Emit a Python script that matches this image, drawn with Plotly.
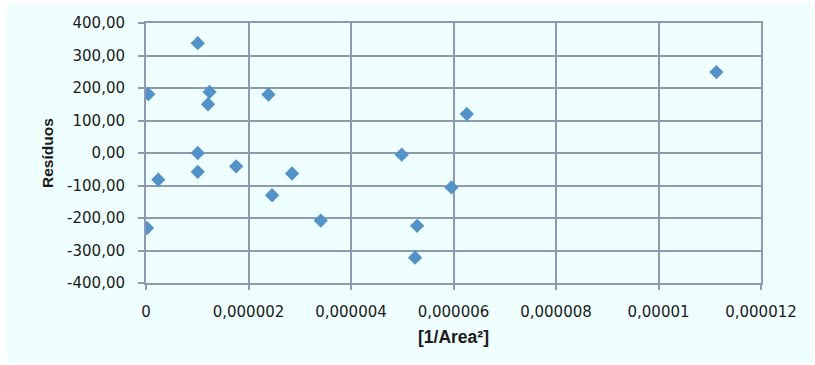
import plotly.graph_objects as go

# Data
x_vals = [0.045e-6, 1.01e-6, 1.24e-6, 1.21e-6, 2.39e-6,
          1.01e-6, 0.24e-6, 1.01e-6, 1.76e-6, 0.02e-6,
          2.46e-6, 2.85e-6, 3.41e-6, 4.99e-6, 5.96e-6,
          5.29e-6, 5.25e-6, 11.13e-6, 6.26e-6]
residuos = [181, 338, 188, 150, 180,
            0, -82, -58, -41, -231,
            -130, -63, -208, -5, -106,
            -224, -322, 249, 120]

x_tickvals = [0, 0.000002, 0.000004, 0.000006, 0.000008, 0.00001, 0.000012]
x_ticktext = ["0", "0,000002", "0,000004", "0,000006", "0,000008", "0,00001", "0,000012"]
y_tickvals = [400, 300, 200, 100, 0, -100, -200, -300, -400]
y_ticktext = ["400,00", "300,00", "200,00", "100,00", "0,00", "-100,00", "-200,00", "-300,00", "-400,00"]

W, H = 815, 365
ML, MR, MT, MB = 146, 54, 23, 82
PW, PH = W - ML - MR, H - MT - MB

def px_x(p):
    return (p - ML) / PW

def px_y(p):
    return (H - MB - p) / PH

BG = "#EFFFFF"
GRID = "#8D9AB1"
TICKFONT = dict(family="DejaVu Sans", size=15, color="#1a1a1a")

fig = go.Figure()
fig.add_trace(go.Scatter(
    x=x_vals, y=residuos, mode="markers",
    marker=dict(symbol="diamond", size=11, color="#5292C8", line=dict(width=0)),
    showlegend=False, hoverinfo="skip",
))

fig.update_layout(
    width=W, height=H,
    margin=dict(l=ML, r=MR, t=MT, b=MB, autoexpand=False),
    paper_bgcolor="white", plot_bgcolor=BG,
    shapes=[dict(type="rect", xref="paper", yref="paper",
                 x0=px_x(7), x1=px_x(813), y0=px_y(363), y1=px_y(3),
                 fillcolor=BG, line=dict(width=0), layer="below")],
    annotations=[
        dict(text="<b>Resíduos</b>", xref="paper", yref="paper",
             x=px_x(47), y=0.5, textangle=-90, showarrow=False,
             xanchor="center", yanchor="middle",
             font=dict(family="Liberation Sans", size=15.5, color="#1a1a1a")),
        dict(text="<b>[1/Area²]</b>", xref="paper", yref="paper",
             x=0.5, y=px_y(337), showarrow=False,
             xanchor="center", yanchor="middle",
             font=dict(family="Liberation Sans", size=17.5, color="#1a1a1a")),
    ],
)

fig.update_xaxes(
    range=[0, 0.000012], tickvals=x_tickvals, ticktext=x_ticktext,
    showgrid=True, gridcolor=GRID, gridwidth=1.5,
    showline=True, linecolor=GRID, linewidth=2, mirror=True,
    ticks="outside", ticklen=5, tickcolor=GRID, tickwidth=1.5,
    tickfont=TICKFONT, ticklabelstandoff=9, zeroline=False,
)
fig.update_yaxes(
    range=[-400, 400], tickvals=y_tickvals, ticktext=y_ticktext,
    showgrid=True, gridcolor=GRID, gridwidth=1.5,
    showline=True, linecolor=GRID, linewidth=2, mirror=True,
    ticks="outside", ticklen=6, tickcolor=GRID, tickwidth=1.5,
    tickfont=TICKFONT, ticklabelstandoff=10, zeroline=False,
)

fig.write_html("out.html")
